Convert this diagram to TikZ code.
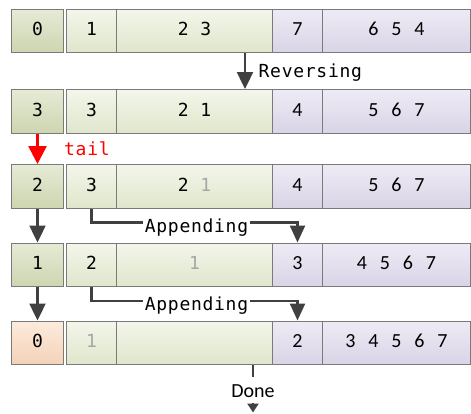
\documentclass[tikz,border=0pt]{standalone}
\usepackage{fontspec}
\setmainfont{Carlito}
\newfontfamily\monof[LetterSpace=4]{DejaVu Sans Mono}
\newfontfamily\sansf[WordSpace=2.85]{Carlito}
\usetikzlibrary{arrows.meta}

\definecolor{cellline}{HTML}{7A7A7A}
\definecolor{headT}{HTML}{E6EBD5}
\definecolor{headB}{HTML}{CDD5B1}
\definecolor{bodyT}{HTML}{F3F6EA}
\definecolor{bodyB}{HTML}{E0E6CC}
\definecolor{purT}{HTML}{EEEBF5}
\definecolor{purB}{HTML}{D9D4E6}
\definecolor{peachT}{HTML}{FCEBDD}
\definecolor{peachB}{HTML}{F4D2B8}
\definecolor{conn}{HTML}{404040}
\definecolor{faded}{HTML}{A6A6A6}

\tikzset{
  cell/.style={draw=cellline, line width=1pt, minimum height=43.5pt,
    inner sep=0pt, anchor=north west, text height=12.5pt, text depth=3pt},
  monotext/.style={font=\monof\fontsize{18}{21}\selectfont},
  sanstext/.style={font=\sansf\fontsize{20}{24}\selectfont},
  headcell/.style={cell, monotext, top color=headT, bottom color=headB},
  endcell/.style={cell, monotext, top color=peachT, bottom color=peachB},
  bodycell/.style={cell, monotext, top color=bodyT, bottom color=bodyB},
  purcell/.style={cell, sanstext, top color=purT, bottom color=purB},
  connector/.style={draw=conn, line width=2.4pt,
    -{Triangle[width=16pt,length=17pt]}},
  tailarrow/.style={draw=red, line width=2.6pt,
    -{Triangle[width=18pt,length=18pt]}},
  lbl/.style={monotext, inner sep=0pt},
  onlinelbl/.style={lbl, fill=white, inner xsep=2pt, inner ysep=1pt},
}

% one row of the list: head cell, two body cells, two reversed-tail cells
\newcommand\cellrow[8]{%
  \node[#3, minimum width=52pt]  (#1c0) at (11,#2)  {#4};
  \node[bodycell, minimum width=50pt]  (#1c1) at (66,#2)  {#5};
  \node[bodycell, minimum width=156pt] (#1c2) at (116,#2) {#6};
  \node[purcell, minimum width=50pt]   (#1c3) at (272,#2) {#7};
  \node[purcell, minimum width=148pt]  (#1c4) at (322,#2) {#8};
}
\newcommand\gr[1]{\textcolor{faded}{#1}}

\begin{document}
\begin{tikzpicture}[x=1pt,y=-1pt]
  \useasboundingbox (0,0) rectangle (471,413);

  \cellrow{ra}{8.5}{headcell}{0}{1}{2 3}{7}{6 5 4}
  \cellrow{rb}{89}{headcell}{3}{3}{2 1}{4}{5 6 7}
  \cellrow{rc}{164}{headcell}{2}{3}{2 \gr{1}}{4}{5 6 7}
  \cellrow{rd}{242.5}{headcell}{1}{2}{\gr{1}}{3}{4 5 6 7}
  \cellrow{re}{320.5}{endcell}{0}{\gr{1}}{}{2}{3 4 5 6 7}

  % reversing step
  \coordinate (revx) at (245,0);
  \draw[connector] (rac2.south -| revx) -- (rbc2.north -| revx);
  \node[lbl, anchor=base west] (rev) at (258.5,77) {Reversing};

  % tail pointer
  \draw[tailarrow] (rbc0.south) -- (rcc0.north);
  \node[lbl, anchor=base west, text=red] (tail) at (64,155) {tail};

  % head walks down
  \draw[connector] (rcc0.south) -- (rdc0.north);
  \draw[connector] (rdc0.south) -- (rec0.north);

  % appending steps
  \draw[connector, -{Triangle[width=15pt,length=17pt]}]
    (rcc1.south) -- ++(0,14) -| (rdc3.north);
  \node[onlinelbl, anchor=base] (app1) at (196.5,232) {Appending};
  \draw[connector, -{Triangle[width=15pt,length=17pt]}]
    (rdc1.south) -- ++(0,14) -| (rec3.north);
  \node[onlinelbl, anchor=base] (app2) at (196.5,310.5) {Appending};

  % finished
  \coordinate (donex) at (253,0);
  \coordinate (doneend) at (253,412.5);
  \draw[draw=conn, line width=2.4pt, -{Triangle[width=11pt,length=9pt]}]
    (rec2.south -| donex) -- (doneend);
  \node[sanstext, fill=white, inner sep=0pt, text height=20pt, text depth=6pt,
    anchor=base] (done) at (253,397) {Done};
\end{tikzpicture}
\end{document}
